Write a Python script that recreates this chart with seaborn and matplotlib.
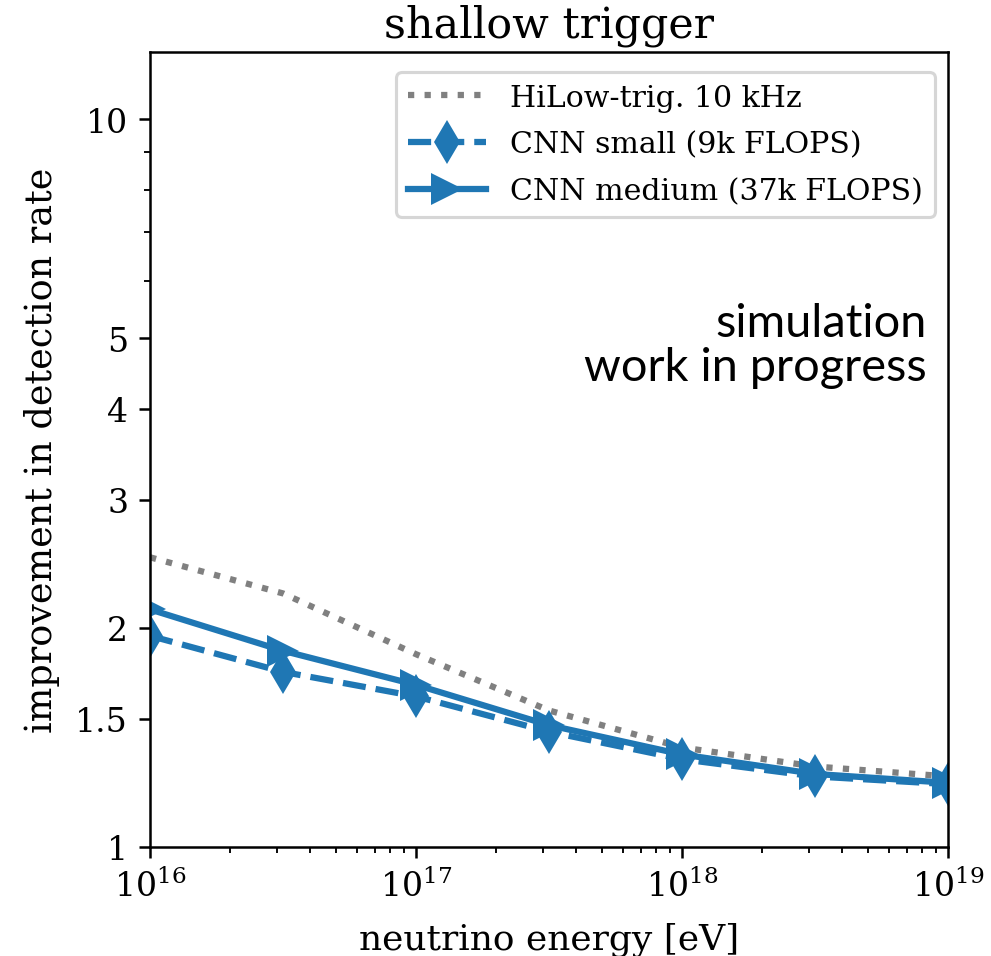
import numpy as np
import pandas as pd
import matplotlib
matplotlib.use("Agg")
import matplotlib.pyplot as plt
import matplotlib.ticker as mticker
import seaborn as sns

# neutrino energies [eV] and detection-rate improvement per trigger
energy = [1e16, 10**16.5, 1e17, 10**17.5, 1e18, 10**18.5, 1e19]
hilow_10khz = [2.50, 2.23, 1.84, 1.54, 1.37, 1.29, 1.25]
cnn_small = [1.95, 1.74, 1.61, 1.44, 1.32, 1.25, 1.22]
cnn_medium = [2.12, 1.86, 1.67, 1.47, 1.34, 1.26, 1.225]

labels = ["HiLow-trig. 10 kHz", "CNN small (9k FLOPS)", "CNN medium (37k FLOPS)"]

plt.rcParams["font.family"] = ["DejaVu Serif"]
plt.rcParams["mathtext.fontset"] = "dejavuserif"

fig = plt.figure(figsize=(991 / 225, 957 / 225), dpi=225)
ax = fig.add_axes([0.1514, 0.1139, 0.9566 - 0.1514, 0.9446 - 0.1139])

sns.lineplot(x=energy, y=hilow_10khz, ax=ax, color="gray", linestyle=":",
             linewidth=2, label=labels[0])
sns.lineplot(x=energy, y=cnn_small, ax=ax, color="#1f77b4", linestyle="--",
             linewidth=2, marker="d", markersize=10, markeredgewidth=0, label=labels[1])
sns.lineplot(x=energy, y=cnn_medium, ax=ax, color="#1f77b4", linestyle="-",
             linewidth=2, marker=">", markersize=10, markeredgewidth=0, label=labels[2])

ax.set_xscale("log")
ax.set_yscale("log")
ax.set_xlim(1e16, 1e19)
ax.set_ylim(1, 12.36)

ax.yaxis.set_major_locator(mticker.FixedLocator([1, 1.5, 2, 3, 4, 5, 10]))
ax.yaxis.set_major_formatter(mticker.FixedFormatter(["1", "1.5", "2", "3", "4", "5", "10"]))
ax.yaxis.set_minor_locator(mticker.FixedLocator([6, 7, 8, 9]))
ax.yaxis.set_minor_formatter(mticker.NullFormatter())

ax.tick_params(axis="both", which="major", labelsize=10.6)

ax.set_xlabel("neutrino energy [eV]", fontsize=11.5, labelpad=6)
ax.set_ylabel("improvement in detection rate", fontsize=11.7, labelpad=5)
ax.set_title("shallow trigger", fontsize=13.7, pad=5)

ax.legend(loc="upper right", bbox_to_anchor=(0.984, 0.975), borderaxespad=0,
          fontsize=9.6, handlelength=2.6, labelspacing=0.62)

ax.text(0.974, 0.685, "simulation\nwork in progress", transform=ax.transAxes,
        ha="right", va="top", fontsize=15, family=["Lato", "DejaVu Sans"],
        linespacing=1.05)

fig.savefig("out.png", dpi=225)
